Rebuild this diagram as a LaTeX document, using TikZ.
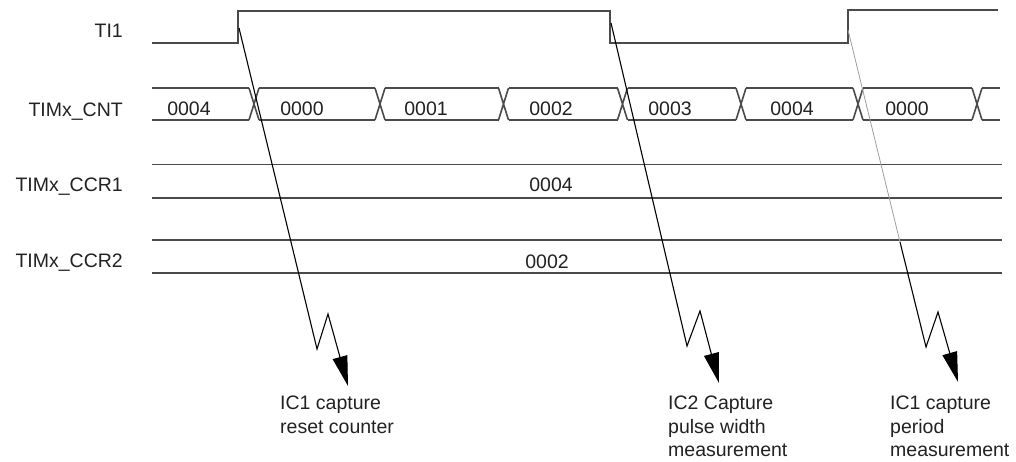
\documentclass[tikz,border=0pt]{standalone}
\usepackage{fontspec}
\setmainfont{Liberation Sans}
\usetikzlibrary{arrows.meta}
\definecolor{sig}{HTML}{4A4A4A}
\definecolor{txt}{HTML}{222222}
\begin{document}
\begin{tikzpicture}[x=1pt,y=-1pt,
  sigline/.style={draw=sig,line width=1.6pt,line join=miter},
  basefont/.style={inner sep=0pt,text=txt,font=\fontsize{19.5}{23.5}\selectfont},
  lbl/.style={basefont,anchor=base east},
  val/.style={basefont,anchor=base},
  note/.style={basefont,anchor=north west,align=left},
  capt/.style={draw=black,line width=1.1pt,line join=miter},
  tipped/.style={-{Triangle[length=30pt,width=15pt]}},
]
\useasboundingbox (0,0) rectangle (1016,461);
\fill[white] (0,0) rectangle (1016,461);

% row labels
\node[lbl] (lti)   at (123,37)  {TI1};
\node[lbl] (lcnt)  at (123,116) {TIMx\_CNT};
\node[lbl] (lccr1) at (123,191) {TIMx\_CCR1};
\node[lbl] (lccr2) at (123,267) {TIMx\_CCR2};

% TI1 waveform
\draw[sigline] (152,43) -- (238,43) -- (238,11) -- (610,11) -- (610,43)
  -- (848,43) -- (848,10) -- (998,10);

% counter bus
\foreach \a/\b in {152/249, 259/375, 385/498.5, 508.5/617.5, 627.5/736, 746/853, 863/972, 982/1000}
  {\draw[sigline] (\a,88) -- (\b,88) (\a,120) -- (\b,120);}
\foreach \c in {254,380,503.5,622.5,741,858,977}
  {\draw[sigline] (\c-5,88) -- (\c+5,120) (\c-5,120) -- (\c+5,88);}
\node[val] (c0) at (189,115) {0004};
\node[val] (c1) at (302,115) {0000};
\node[val] (c2) at (426,115) {0001};
\node[val] (c3) at (551,115) {0002};
\node[val] (c4) at (670,115) {0003};
\node[val] (c5) at (792,115) {0004};
\node[val] (c6) at (907,115) {0000};

% capture registers
\draw[sigline] (152,164.5) -- (1002,164.5) (152,198) -- (1002,198);
\node[val] (r1) at (551,191) {0004};
\draw[sigline] (152,240) -- (1002,240) (152,273) -- (1002,273);
\node[val] (r2) at (547,268) {0002};

% captions
\node[note] (n1) at (280,396) {IC1 capture\\reset counter};
\node[note] (n2) at (668,396) {IC2 Capture\\pulse width\\measurement};
\node[note] (n3) at (890,396) {IC1 capture\\period\\measurement};

% capture arrows
\coordinate (s1) at (239,28);
\coordinate (z1a) at (317,349);
\coordinate (z1b) at (328,314);
\coordinate (t1) at (348,386);
\draw[capt,tipped] (s1) -- (z1a) -- (z1b) -- (t1);

\coordinate (s2) at (611,23);
\coordinate (z2a) at (687,346);
\coordinate (z2b) at (700,311);
\coordinate (t2) at (719,383);
\draw[capt,tipped] (s2) -- (z2a) -- (z2b) -- (t2);

\coordinate (s3) at (848,30);
\coordinate (m3) at (900,242);
\coordinate (z3a) at (926,347);
\coordinate (z3b) at (938,312);
\coordinate (t3) at (958,382);
\draw[draw=gray!75,line width=0.8pt] (s3) -- (m3);
\draw[capt,tipped] (m3) -- (z3a) -- (z3b) -- (t3);
\end{tikzpicture}
\end{document}
